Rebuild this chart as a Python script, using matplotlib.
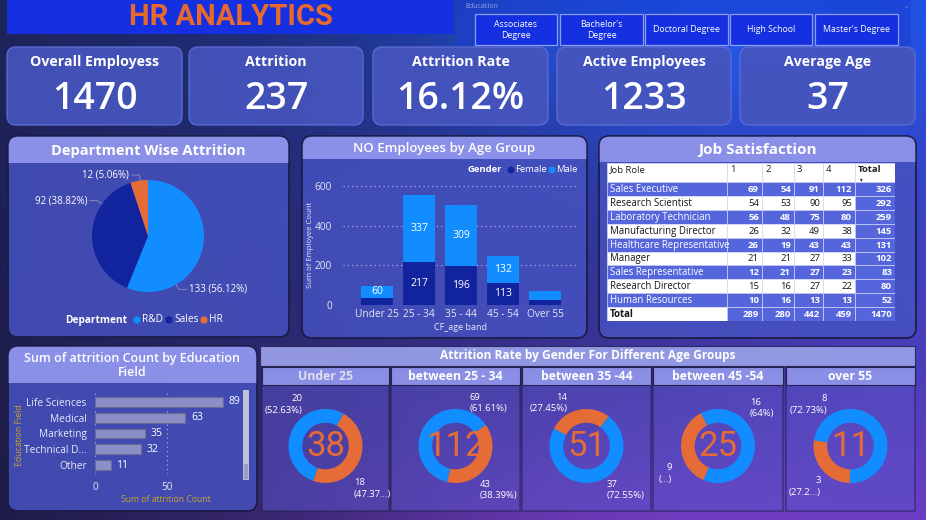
import numpy as np
import matplotlib
matplotlib.use("Agg")
import matplotlib.pyplot as plt
from matplotlib.patches import FancyBboxPatch, Rectangle, Circle

plt.rcParams['font.family'] = ['Open Sans', 'DejaVu Sans']

# ---------------- data ----------------
kpi_titles = ["Overall Employess", "Attrition", "Attrition Rate", "Active Employees", "Average Age"]
kpi_values = ["1470", "237", "16.12%", "1233", "37"]

education_levels = ["Associates\nDegree", "Bachelor's\nDegree", "Doctoral Degree", "High School", "Master's Degree"]

dept_names = ["R&D", "Sales", "HR"]
dept_attrition = [133, 92, 12]

age_bands = ["Under 25", "25 - 34", "35 - 44", "45 - 54", "Over 55"]
female_counts = [37, 217, 196, 113, 25]
male_counts = [60, 337, 309, 132, 44]

job_roles = ["Sales Executive", "Research Scientist", "Laboratory Technician",
             "Manufacturing Director", "Healthcare Representative", "Manager",
             "Sales Representative", "Research Director", "Human Resources"]
sat_levels = ["1", "2", "3", "4"]
sat_1 = [69, 54, 56, 26, 26, 21, 12, 15, 10]
sat_2 = [54, 53, 48, 32, 19, 21, 21, 16, 16]
sat_3 = [91, 90, 75, 49, 43, 27, 27, 27, 13]
sat_4 = [112, 95, 80, 38, 43, 33, 23, 22, 13]

edu_fields = ["Life Sciences", "Medical", "Marketing", "Technical D...", "Other"]
edu_attrition = [89, 63, 35, 32, 11]

donut_groups = ["Under 25", "between 25 - 34", "between 35 -44", "between 45 -54", "over 55"]
donut_orange = [18, 43, 14, 9, 3]
donut_blue = [20, 69, 37, 16, 8]
donut_orange_trunc = [5, None, None, 0, 4]

# ---------------- style ----------------
C_BLUE = '#118dff'
C_NAVY = '#12239e'
C_ORANGE = '#e66c37'
HEADER = '#8a90e8'
BODY = '#4652c0'
W, H = 926, 520

fig = plt.figure(figsize=(W / 100, H / 100), dpi=100)

bg = fig.add_axes([0, 0, 1, 1])
bg.set_zorder(0)
bg.set_xlim(0, W)
bg.set_ylim(H, 0)
bg.axis('off')

yy, xx = np.mgrid[0:H, 0:W]
u = (xx / W)[..., None]
v = (yy / H)[..., None]
TL = np.array([30, 36, 92]); TR = np.array([30, 72, 200])
BL = np.array([30, 28, 72]); BR = np.array([95, 58, 180])
img = TL * (1 - u) * (1 - v) + TR * u * (1 - v) + BL * (1 - u) * v + BR * u * v
glow = np.exp(-(((xx - 680) / 260.0) ** 2 + ((yy - 30) / 120.0) ** 2))
img = img + glow[..., None] * np.array([0, 25, 60])
purple = np.exp(-(((xx - 620) / 300.0) ** 2 + ((yy - 520) / 90.0) ** 2))
img = img + purple[..., None] * np.array([35, 10, 40])
bg.imshow(np.clip(img / 255.0, 0, 1), extent=(0, W, H, 0), aspect='auto', zorder=0)


def add_px_axes(x0, y0, x1, y1, z=5):
    ax = fig.add_axes([x0 / W, 1 - y1 / H, (x1 - x0) / W, (y1 - y0) / H])
    ax.set_zorder(z)
    ax.patch.set_alpha(0)
    return ax


def rbox(x0, y0, x1, y1, fc, ec='none', lw=0.8, r=8, alpha=1.0, z=1):
    p = FancyBboxPatch((x0, y0), x1 - x0, y1 - y0,
                       boxstyle=f"round,pad=0,rounding_size={r}",
                       fc=fc, ec=ec, lw=lw, alpha=alpha, zorder=z)
    bg.add_patch(p)
    return p


def panel(x0, y0, x1, y1, hy, title, fs=10.5, r=10, weight='bold', family=None):
    body = rbox(x0, y0, x1, y1, fc=BODY, ec='#1b1c48', lw=1.0, r=r, alpha=0.85, z=2)
    hdr = Rectangle((x0, y0), x1 - x0, hy - y0, fc=HEADER, ec='none', zorder=3)
    bg.add_patch(hdr)
    hdr.set_clip_path(body)
    edge = FancyBboxPatch((x0, y0), x1 - x0, y1 - y0, boxstyle=f"round,pad=0,rounding_size={r}",
                          fc='none', ec='#1b1c48', lw=1.0, zorder=4)
    bg.add_patch(edge)
    bg.text((x0 + x1) / 2, (y0 + hy) / 2 + 1, title, ha='center', va='center', color='white',
            fontsize=fs, fontweight=weight, zorder=5,
            family=family if family else ['Open Sans', 'DejaVu Sans'], linespacing=1.1)


# ---------------- title banner ----------------
bg.add_patch(Rectangle((7, 0), 447, 34, fc='#1530e0', ec='none', zorder=2))
bg.text(231, 17, "HR ANALYTICS", ha='center', va='center', color='#e8692e', fontsize=21,
        fontweight='bold', family=['Roboto', 'DejaVu Sans'], zorder=3)

# ---------------- slicer ----------------
bg.add_patch(Rectangle((456, 0), 455, 46, fc='#1a3fd2', ec='none', alpha=0.6, zorder=1))
bg.text(465, 6, "Education", ha='left', va='center', color='#9aa6d8', fontsize=5, zorder=3)
bg.text(906, 6, "\u2304", ha='center', va='center', color='#7080c0', fontsize=6, zorder=3)
btn_x = [(475, 557), (560, 643), (645, 728), (730, 812), (815, 898)]
for (bx0, bx1), lab in zip(btn_x, education_levels):
    bg.add_patch(Rectangle((bx0, 14), bx1 - bx0, 31, fc='#1530e0', ec='#8c9cf0', lw=0.9, zorder=3))
    bg.text((bx0 + bx1) / 2, 30, lab, ha='center', va='center', color='white', fontsize=6.3,
            linespacing=1.25, zorder=4)

# ---------------- KPI cards ----------------
card_x = [(7, 182), (189, 363), (373, 548), (557, 731), (740, 915)]
for (cx0, cx1), t, val in zip(card_x, kpi_titles, kpi_values):
    rbox(cx0, 47, cx1, 125, fc='#4655bd', ec='#5d6cd6', lw=1.0, r=9, alpha=0.92, z=2)
    bg.text((cx0 + cx1) / 2, 62, t, ha='center', va='center', color='white', fontsize=10.2,
            fontweight='bold', zorder=3)
    bg.text((cx0 + cx1) / 2, 99, val, ha='center', va='center', color='white', fontsize=27,
            fontweight='semibold', zorder=3)

# ---------------- Department pie ----------------
panel(8, 136, 289, 337, 163, "Department Wise Attrition", fs=10.5)
pr = 56.0
pcx, pcy = 148, 236
pax = add_px_axes(8, 163, 289, 337)
pax.pie(dept_attrition, colors=[C_BLUE, C_NAVY, C_ORANGE], startangle=90, counterclock=False,
        radius=1.0, wedgeprops=dict(linewidth=0))
pax.set_aspect('auto')
pax.set_xlim(-(pcx - 8) / pr, (289 - pcx) / pr)
pax.set_ylim(-(337 - pcy) / pr, (pcy - 163) / pr)
pie_label_angles = [-60, 145, 98]
tot = sum(dept_attrition)
for ang, val in zip(pie_label_angles, dept_attrition):
    a = np.deg2rad(ang)
    x1, y1 = np.cos(a), np.sin(a)
    x2, y2 = 1.1 * x1, 1.1 * y1
    side = 1 if x1 > 0 else -1
    x3 = x2 + side * 0.14
    pax.plot([x1, x2, x3], [y1, y2, y2], color='#8f93b8', lw=0.6, clip_on=False)
    pax.text(x3 + side * 0.04, y2, f"{val} ({val / tot * 100:.2f}%)", ha='left' if side > 0 else 'right',
             va='center', color='white', fontsize=7, clip_on=False)
# legend
bg.text(127, 320, "Department", ha='right', va='center', color='white', fontsize=7.3, fontweight='bold', zorder=6)
leg_x = [137, 169, 204]
for lx, nm, col in zip(leg_x, dept_names, [C_BLUE, C_NAVY, C_ORANGE]):
    bg.add_patch(Circle((lx, 320), 3.6, fc=col, ec='none', zorder=6))
    bg.text(lx + 5, 320, nm, ha='left', va='center', color='white', fontsize=7.3, zorder=6)

# ---------------- Age group bars ----------------
panel(302, 136, 587, 338, 159, "NO Employees by Age Group", fs=9.5, weight='semibold')
bax = add_px_axes(343, 182, 577, 305)
xi = np.arange(len(age_bands))
bw = 0.76
bax.bar(xi, female_counts, width=bw, color=C_NAVY, zorder=3)
bax.bar(xi, male_counts, bottom=female_counts, width=bw, color=C_BLUE, zorder=3)
for x, f, m in zip(xi, female_counts, male_counts):
    if f >= 50:
        bax.text(x, f / 2, str(f), ha='center', va='center', color='white', fontsize=7.5, zorder=4)
    if m >= 50:
        bax.text(x, f + m / 2, str(m), ha='center', va='center', color='white', fontsize=7.5, zorder=4)
bax.set_xlim(-0.81, 4.76)
bax.set_ylim(0, 620)
bax.set_yticks([0, 200, 400, 600])
bax.set_xticks(xi)
bax.set_xticklabels(age_bands)
bax.tick_params(axis='both', length=0, colors='#e6e8f8', labelsize=7.3)
bax.tick_params(axis='y', pad=8)
bax.tick_params(axis='x', pad=3)
bax.yaxis.grid(True, linestyle=(0, (1, 3)), color='#b8bce8', lw=0.8, zorder=0)
for s in bax.spines.values():
    s.set_visible(False)
bax.set_xlabel("CF_age band", color='#e6e8f8', fontsize=6.5, labelpad=2)
bg.text(311, 245, "Sum of Employee Count", rotation=90, ha='center', va='center', color='#e6e8f8',
        fontsize=5.6, zorder=6)
# legend
bg.text(502, 170, "Gender", ha='right', va='center', color='white', fontsize=6.8, fontweight='bold', zorder=6)
for lx, nm, col in zip([511, 552], ["Female", "Male"], [C_NAVY, C_BLUE]):
    bg.add_patch(Circle((lx, 170), 3.4, fc=col, ec='none', zorder=6))
    bg.text(lx + 4.5, 170, nm, ha='left', va='center', color='white', fontsize=6.8, zorder=6)

# ---------------- Job Satisfaction table ----------------
panel(599, 136, 916, 338, 162, "Job Satisfaction", fs=11)
tax = add_px_axes(607, 163, 895, 321)
col_w = [120, 35, 32, 29, 32, 40]
col_edges = np.concatenate([[0], np.cumsum(col_w)])
hdr_h = 19.0
row_h = (158 - hdr_h) / (len(job_roles) + 1)
tax.set_xlim(0, col_edges[-1])
tax.set_ylim(158, 0)
tax.axis('off')
TBL_BLUE = '#5566dd'
sat_cols = [sat_1, sat_2, sat_3, sat_4]
row_tot = [a + b + c + d for a, b, c, d in zip(sat_1, sat_2, sat_3, sat_4)]
col_tot = [sum(c) for c in sat_cols] + [sum(row_tot)]


def cell(ci, y0, h, fc, text, color, bold=False, align='right', fs=6.8, ty=None):
    x0 = col_edges[ci]
    w = col_w[ci]
    tax.add_patch(Rectangle((x0, y0), w, h, fc=fc, ec='#d6d9f5', lw=0.5))
    yt = y0 + h / 2 + 0.5 if ty is None else ty
    if align == 'left':
        tax.text(x0 + 3, yt, text, ha='left', va='center', color=color,
                 fontsize=fs, fontweight='bold' if bold else 'normal')
    else:
        tax.text(x0 + w - 3, yt, text, ha='right', va='center', color=color,
                 fontsize=fs, fontweight='bold' if bold else 'normal')


header_texts = ["Job Role"] + sat_levels + ["Total"]
for ci, t in enumerate(header_texts):
    cell(ci, 0, hdr_h, 'white', t, '#202020', bold=(ci == 5), align='left', fs=6.8, ty=7.0)
tax.text(col_edges[5] + 6, 16.2, "\u25BE", ha='center', va='center', color='#202020', fontsize=4)

for ri, role in enumerate(job_roles):
    y0 = hdr_h + ri * row_h
    blue_row = (ri % 2 == 0)
    fc = TBL_BLUE if blue_row else 'white'
    tc = 'white' if blue_row else '#151515'
    cell(0, y0, row_h, fc, role, tc, align='left', fs=6.9)
    for ci in range(4):
        cell(ci + 1, y0, row_h, fc, str(sat_cols[ci][ri]), tc, bold=blue_row)
    cell(5, y0, row_h, TBL_BLUE, str(row_tot[ri]), 'white', bold=True)
y0 = hdr_h + len(job_roles) * row_h
cell(0, y0, row_h, 'white', "Total", '#151515', bold=True, align='left', fs=6.9)
for ci in range(5):
    cell(ci + 1, y0, row_h, TBL_BLUE, str(col_tot[ci]), 'white', bold=True)

# ---------------- Education field bars ----------------
panel(8, 346, 257, 511, 383, "Sum of attrition Count by Education\nField", fs=9, weight='semibold')
eax = add_px_axes(95, 393, 235, 474)
ei = np.arange(len(edu_fields))
eax.barh(ei, edu_attrition, height=0.63, color='#8c8ec8', edgecolor='#6a6c92', lw=0.8, zorder=3)
for y, v in zip(ei, edu_attrition):
    eax.text(v + 4, y, str(v), ha='left', va='center', color='white', fontsize=7.5)
eax.set_xlim(0, 140 / 1.434)
eax.set_ylim(4.57, -0.57)
eax.set_yticks(ei)
eax.set_yticklabels(edu_fields)
eax.set_xticks([0, 50])
eax.tick_params(axis='both', length=0, colors='#e6e8f8', labelsize=7.3)
eax.tick_params(axis='y', pad=6)
eax.tick_params(axis='x', pad=6)
eax.xaxis.grid(True, linestyle=(0, (1, 3)), color='#b8bce8', lw=0.8, zorder=0)
for s in eax.spines.values():
    s.set_visible(False)
bg.text(166, 499, "Sum of attrition Count", ha='center', va='center', color='#c9a227', fontsize=6.2, zorder=6)
bg.text(19, 435, "Education Field", rotation=90, ha='center', va='center', color='#c9a227', fontsize=6.2, zorder=6)
bg.add_patch(Rectangle((243, 390), 5, 89, fc='#9a9cb8', ec='#c8cae0', lw=0.6, zorder=6))
bg.add_patch(Rectangle((243, 390), 5, 74, fc='#c2c4d8', ec='none', zorder=7))

# ---------------- Attrition donuts ----------------
bg.add_patch(Rectangle((260, 346), 655, 20, fc='#979de6', ec='#2a2860', lw=0.8, alpha=0.95, zorder=2))
bg.text(588, 355, "Attrition Rate by Gender For Different Age Groups", ha='center', va='center',
        color='white', fontsize=8.6, fontweight='bold', zorder=3)
sub_x = [(262, 389), (391, 520), (522, 651), (653, 783), (786, 915)]
donut_start = [61, 35, 152, 247, 269]
lbl_blue = [(-23.5, -41.5, 'right'), (14.5, -43, 'left'), (20.5, 44, 'left'), (32, -38, 'left'), (-23.5, -41.5, 'right')]
lbl_orange = [(28.5, 42.5, 'left'), (24.5, 44, 'left'), (-19.5, -43, 'right'), (-46, 27.5, 'right'), (-29.5, 40.5, 'right')]
dr = 37.0
dcy = 446
for k, ((sx0, sx1), name) in enumerate(zip(sub_x, donut_groups)):
    bg.add_patch(Rectangle((sx0, 367), sx1 - sx0, 144, fc='#5a52c8', ec='#24224f', lw=1.2, alpha=0.55, zorder=2))
    bg.add_patch(Rectangle((sx0, 367), sx1 - sx0, 18, fc='#8a8fe6', ec='#24224f', lw=0.8, zorder=3))
    bg.text((sx0 + sx1) / 2, 376.5, name, ha='center', va='center',
            color='#dfe0f0' if k == 0 else 'white', fontsize=8.8, fontweight='bold', zorder=4)
    cx = (sx0 + sx1) / 2
    dax = add_px_axes(cx - 50, dcy - 50, cx + 50, dcy + 50)
    o, b = donut_orange[k], donut_blue[k]
    dax.pie([o, b], colors=[C_ORANGE, C_BLUE], startangle=donut_start[k], counterclock=False,
            radius=1.0, wedgeprops=dict(width=0.37, linewidth=0))
    dax.set_aspect('auto')
    dax.set_xlim(-50 / dr, 50 / dr)
    dax.set_ylim(-50 / dr, 50 / dr)
    total = o + b
    dax.text(0, -0.02, str(total), ha='center', va='center', color=C_ORANGE, fontsize=25,
             fontweight='normal', family=['Roboto', 'DejaVu Sans'])
    pb = f"{b / total * 100:.2f}".rstrip('0').rstrip('.')
    po = f"{o / total * 100:.2f}".rstrip('0').rstrip('.')
    if donut_orange_trunc[k] is not None:
        po_txt = "(" + po[:donut_orange_trunc[k]] + "...)"
    else:
        po_txt = f"({po}%)"
    for (dx, dy, al), txt in [(lbl_blue[k], f"{b}\n({pb}%)"), (lbl_orange[k], f"{o}\n{po_txt}")]:
        bg.text(cx + dx, dcy + dy, txt, ha=al, va='center', color='white', fontsize=6.8,
                linespacing=1.35, zorder=8, multialignment=al)

fig.savefig("out.png", dpi=100)
